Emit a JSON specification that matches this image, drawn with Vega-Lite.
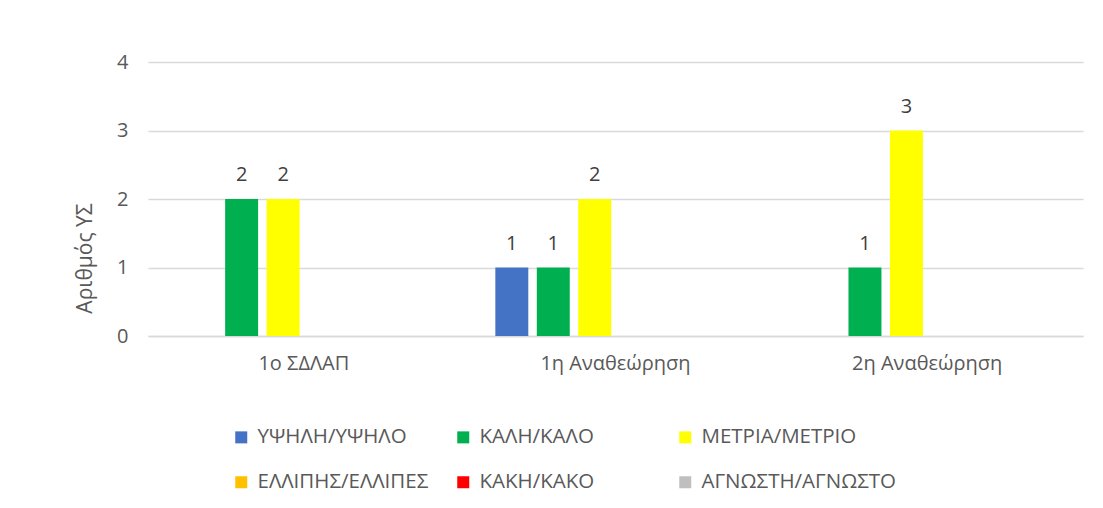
{
  "$schema": "https://vega.github.io/schema/vega-lite/v6.json",
  "width": 935,
  "height": 274,
  "autosize": {"type": "none"},
  "padding": {"left": 148, "top": 62, "right": 20, "bottom": 172},
  "background": "white",
  "config": {
    "font": "Open Sans",
    "view": {"stroke": null},
    "axis": {"labelColor": "#595959", "titleColor": "#595959", "labelFont": "Open Sans", "titleFont": "Open Sans"}
  },
  "data": {
    "values": [
      {"stage": "1ο ΣΔΛΑΠ", "cat": "ΚΑΛΗ/ΚΑΛΟ", "n": 2},
      {"stage": "1ο ΣΔΛΑΠ", "cat": "ΜΕΤΡΙΑ/ΜΕΤΡΙΟ", "n": 2},
      {"stage": "1η Αναθεώρηση", "cat": "ΥΨΗΛΗ/ΥΨΗΛΟ", "n": 1},
      {"stage": "1η Αναθεώρηση", "cat": "ΚΑΛΗ/ΚΑΛΟ", "n": 1},
      {"stage": "1η Αναθεώρηση", "cat": "ΜΕΤΡΙΑ/ΜΕΤΡΙΟ", "n": 2},
      {"stage": "2η Αναθεώρηση", "cat": "ΚΑΛΗ/ΚΑΛΟ", "n": 1},
      {"stage": "2η Αναθεώρηση", "cat": "ΜΕΤΡΙΑ/ΜΕΤΡΙΟ", "n": 3}
    ]
  },
  "encoding": {
    "x": {
      "field": "stage",
      "type": "nominal",
      "sort": ["1ο ΣΔΛΑΠ", "1η Αναθεώρηση", "2η Αναθεώρηση"],
      "scale": {"paddingInner": 0, "paddingOuter": 0},
      "axis": {
        "title": null,
        "labelAngle": 0,
        "labelFontSize": 20,
        "labelPadding": 17,
        "ticks": false,
        "domain": true,
        "domainColor": "#d9d9d9",
        "domainWidth": 1.5
      }
    },
    "xOffset": {
      "field": "cat",
      "type": "nominal",
      "scale": {
        "domain": ["ΥΨΗΛΗ/ΥΨΗΛΟ", "ΚΑΛΗ/ΚΑΛΟ", "ΜΕΤΡΙΑ/ΜΕΤΡΙΟ", "ΕΛΛΙΠΗΣ/ΕΛΛΙΠΕΣ", "ΚΑΚΗ/ΚΑΚΟ", "ΑΓΝΩΣΤΗ/ΑΓΝΩΣΤΟ"],
        "paddingInner": 0.205,
        "paddingOuter": 0.86
      }
    },
    "y": {
      "field": "n",
      "type": "quantitative",
      "scale": {"domain": [0, 4]},
      "axis": {
        "title": "Αριθμός  ΥΣ",
        "values": [0, 1, 2, 3, 4],
        "format": "d",
        "labelFontSize": 20,
        "labelPadding": 20,
        "ticks": false,
        "domain": false,
        "grid": true,
        "gridColor": "#d9d9d9",
        "gridWidth": 1.5,
        "titleFontSize": 21,
        "titleFontWeight": "normal",
        "titleAngle": -90,
        "titleAlign": "center",
        "titleBaseline": "middle",
        "titleX": -63,
        "titleY": 196
      }
    }
  },
  "layer": [
    {
      "mark": {"type": "bar"},
      "encoding": {
        "color": {
          "field": "cat",
          "type": "nominal",
          "scale": {
            "domain": ["ΥΨΗΛΗ/ΥΨΗΛΟ", "ΚΑΛΗ/ΚΑΛΟ", "ΜΕΤΡΙΑ/ΜΕΤΡΙΟ", "ΕΛΛΙΠΗΣ/ΕΛΛΙΠΕΣ", "ΚΑΚΗ/ΚΑΚΟ", "ΑΓΝΩΣΤΗ/ΑΓΝΩΣΤΟ"],
            "range": ["#4472C4", "#00B050", "#FFFF00", "#FFC000", "#FF0000", "#BFBFBF"]
          },
          "legend": {
            "title": null,
            "orient": "none",
            "legendX": 83,
            "legendY": 365,
            "direction": "horizontal",
            "columns": 3,
            "gridAlign": "all",
            "columnPadding": -3,
            "rowPadding": 24,
            "padding": 0,
            "symbolType": "square",
            "symbolSize": 144,
            "symbolStrokeWidth": 0,
            "labelFontSize": 20.5,
            "labelFont": "Open Sans",
            "labelColor": "#595959",
            "labelOffset": 6,
            "labelLimit": 400
          }
        }
      }
    },
    {
      "mark": {"type": "text", "baseline": "alphabetic", "dy": -18, "fontSize": 20, "color": "#404040", "font": "Open Sans"},
      "encoding": {"text": {"field": "n", "type": "quantitative"}}
    }
  ]
}
